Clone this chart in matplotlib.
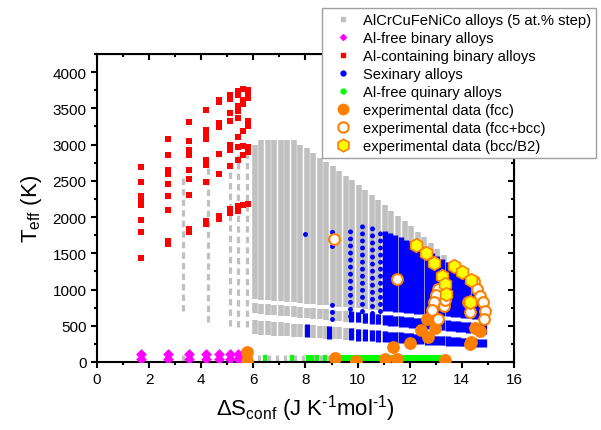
import matplotlib.pyplot as plt
from matplotlib.lines import Line2D
from matplotlib.ticker import MultipleLocator

plt.rcParams["font.family"] = ["Liberation Sans", "DejaVu Sans"]
plt.rcParams["mathtext.fontset"] = "custom"
plt.rcParams["mathtext.rm"] = "Liberation Sans"
plt.rcParams["mathtext.it"] = "Liberation Sans:italic"

GRAY = "#c0c0c0"
ORANGE = "#ff8000"

# AlCrCuFeNiCo alloys, sparse low-entropy columns (dashed strips)
gray_sparse_x = [3.3, 4.26, 5.1, 5.4, 5.76]
gray_sparse_top = [2550, 2730, 2700, 2850, 2900]
gray_sparse_bot = [700, 550, 500, 480, 480]

# AlCrCuFeNiCo alloys, dense columns: upper block, two lower bands, bottom strip
gray_x = [6.05, 6.3, 6.55, 6.8, 7.05, 7.3, 7.55, 7.8, 8.05, 8.3, 8.55, 8.8,
          9.05, 9.3, 9.55, 9.8, 10.05, 10.3, 10.55, 10.8, 11.05, 11.3, 11.55,
          11.8, 12.05, 12.3, 12.55, 12.8, 13.05, 13.3, 13.55, 13.8, 14.05,
          14.3, 14.55]
gray_top = [3000, 3060, 3070, 3070, 3070, 3060, 3060, 3000, 2950, 2880, 2820,
            2760, 2700, 2640, 2570, 2510, 2440, 2370, 2300, 2230, 2160, 2090,
            2010, 1940, 1870, 1800, 1720, 1640, 1560, 1470, 1380, 1280, 1180,
            1060, 900]
gray_lo = [870, 862, 854, 846, 838, 830, 821, 813, 805, 797, 789, 780, 772,
           764, 756, 748, 740, 731, 723, 715, 707, 699, 690, 682, 674, 666,
           658, 649, 641, 633, 625, 617, 609, 600, 592]
gray_b1_hi = [815, 807, 799, 791, 783, 775, 766, 758, 750, 742, 734, 725, 717,
              709, 701, 693, 685, 676, 668, 660, 652, 644, 635, 627, 619, 611,
              603, 594, 586, 578, 570, 562, 554, 545, 537]
gray_b1_lo = [670, 662, 654, 646, 638, 630, 621, 613, 605, 597, 589, 580, 572,
              564, 556, 548, 540, 531, 523, 515, 507, 499, 490, 482, 474, 466,
              458, 449, 441, 433, 425, 417, 409, 400, 392]
gray_b2_hi = [575, 568, 560, 553, 545, 538, 530, 523, 515, 508, 500, 493, 485,
              478, 470, 463, 455, 448, 440, 433, 425, 418, 410, 403, 395, 388,
              380, 373, 365, 358, 350, 343, 335, 328, 320]
gray_b2_lo = [380, 375, 369, 364, 359, 353, 348, 343, 338, 332, 327, 322, 316,
              311, 306, 300, 295, 290, 284, 279, 274, 268, 263, 258, 252, 247,
              242, 236, 231, 226, 220, 215, 210, 204, 200]
gray_floor_x = [3.3, 4.26, 4.7, 5.1, 5.4, 5.9, 6.2, 6.6, 6.9, 7.2, 7.6, 7.9,
                8.3, 8.6, 8.9]

# Sexinary alloys: dense columns
blue_x = [11.05, 11.25, 11.45, 11.65, 11.85, 12.05, 12.25, 12.45, 12.65,
          12.85, 13.05, 13.25, 13.45, 13.65, 13.85, 14.05, 14.25, 14.45,
          14.65, 14.85]
blue_top = [1810, 1780, 1750, 1720, 1690, 1665, 1630, 1590, 1550, 1510, 1465,
            1420, 1380, 1335, 1290, 1250, 1200, 1130, 1030, 880]
blue_lo = [707, 700, 693, 687, 680, 674, 667, 661, 654, 648, 641, 635, 628,
           622, 615, 608, 602, 596, 590, 585]
blue_b1_hi = [652, 645, 638, 632, 625, 619, 612, 606, 599, 593, 586, 580, 573,
              567, 560, 553, 547, 541, 535, 530]
blue_b1_lo = [507, 500, 493, 487, 480, 474, 467, 461, 454, 448, 441, 435, 428,
              422, 415, 408, 402, 396, 390, 385]
blue_b2_hi = [425, 419, 413, 407, 401, 395, 389, 383, 377, 371, 365, 359, 353,
              347, 341, 335, 330, 326, 322, 318]
blue_b2_lo = [274, 270, 265, 261, 257, 253, 249, 245, 241, 237, 233, 229, 225,
              222, 218, 214, 210, 206, 203, 200]

# Sexinary alloys: sparse columns (dotted) and their lower bands
blue_sparse_x = [8.0, 9.0, 9.0, 9.7, 10.15, 10.55, 10.85]
blue_sparse_top = [1810, 1870, 830, 1880, 1900, 1880, 1850]
blue_sparse_bot = [1770, 1600, 600, 640, 700, 680, 700]
blue_band_x = [8.05, 8.9, 9.75, 10.0, 10.3, 10.55, 10.8]
blue_band_b1_hi = [0, 0, 697, 690, 682, 674, 666]
blue_band_b1_lo = [0, 0, 552, 545, 537, 529, 521]
blue_band_b2_hi = [520, 495, 470, 462, 454, 447, 440]
blue_band_b2_lo = [345, 320, 300, 295, 290, 285, 280]

# Al-free quinary alloys
green_x = [6.45, 7.5, 8.1, 8.25, 8.45, 8.75, 9.1, 9.25, 9.4, 9.55, 9.7, 9.85,
           10.0, 10.15, 10.3, 10.45, 10.6, 10.75, 10.9, 11.05, 11.2, 11.35,
           11.5, 11.65, 11.8, 11.95, 12.1, 12.25, 12.4, 12.55, 12.7, 12.85,
           13.0, 13.15]
green_lo = 20
green_hi = 95

# Al-free binary alloys
mag_x = [1.67, 2.71, 3.53, 4.18, 4.68, 5.09, 5.4, 5.6,
         1.67, 2.71, 3.53, 4.18, 4.68, 5.09, 5.4, 5.6]
mag_t = [110, 110, 110, 110, 110, 110, 110, 110,
         35, 35, 35, 35, 35, 35, 35, 35]

# Al-containing binary alloys
red_cols = {
    1.67: [2690, 2490, 2290, 2230, 2160, 1960, 1800, 1440],
    2.71: [3080, 2850, 2650, 2600, 2455, 2295, 2100, 1670, 1630],
    3.53: [3310, 3050, 2930, 2860, 2650, 2520, 2310, 1830, 1800],
    4.18: [3480, 3200, 3130, 3075, 2790, 2720, 2480, 1950, 1900],
    4.68: [3620, 3590, 3300, 3240, 2870, 2590, 2020, 1970],
    5.09: [3690, 3630, 3440, 3330, 3000, 2925, 2710, 2110, 2050],
    5.4: [3740, 3680, 3530, 3470, 3360, 3110, 2970, 2790, 2150, 2090],
    5.6: [3770, 3620, 3560, 3190, 2985, 2860, 2170],
    5.78: [3760, 3700, 3640, 3330, 3260, 2960, 2900, 2180],
}

# experimental data
fcc_x = [5.74, 5.74, 9.13, 9.94, 11.05, 11.5, 13.35, 11.36, 12.0, 12.45,
         12.7, 12.67, 12.97, 14.5, 14.7, 14.35, 14.3]
fcc_t = [140, 20, 50, 20, 40, 40, 30, 205, 262, 440, 340, 590, 465, 470, 430,
         280, 250]
mix_x = [9.1, 11.5, 13.1, 13.0, 12.95, 12.85, 13.1, 13.3, 13.35, 14.3, 14.45,
         14.6, 14.7, 14.8, 14.9, 14.85, 14.25]
mix_t = [1700, 1140, 1010, 920, 830, 720, 590, 770, 860, 685, 1120, 1010, 915,
         825, 710, 600, 830]
bcc_x = [12.24, 12.63, 12.95, 13.7, 13.99, 14.34, 13.24, 13.35, 13.39, 14.3]
bcc_t = [1620, 1500, 1365, 1325, 1240, 1136, 1185, 1070, 940, 830]

fig = plt.figure(figsize=(6.01, 4.31), dpi=100)
ax = fig.add_axes([0.1614, 0.1578, 0.6938, 0.7146])

# gray cloud
ax.vlines(gray_sparse_x, gray_sparse_bot, gray_sparse_top, color=GRAY,
          lw=2.3, linestyles=(0, (2.0, 1.3)), zorder=1)
ax.vlines(gray_x, gray_lo, gray_top, color=GRAY, lw=4.0, zorder=1)
ax.vlines(gray_x, gray_b1_lo, gray_b1_hi, color=GRAY, lw=4.0, zorder=1)
ax.vlines(gray_x, gray_b2_lo, gray_b2_hi, color=GRAY, lw=4.0, zorder=1)
ax.vlines(gray_floor_x, 0, 90, color=GRAY, lw=2.3, zorder=1)

# green quinary
ax.vlines(green_x, green_lo, green_hi, color="#00ff00", lw=3.0, zorder=2)

# blue sexinary
ax.vlines(blue_x, blue_lo, blue_top, color="#0000ff", lw=3.8, zorder=3)
ax.vlines(blue_x, blue_b1_lo, blue_b1_hi, color="#0000ff", lw=3.8, zorder=3)
ax.vlines(blue_x, blue_b2_lo, blue_b2_hi, color="#0000ff", lw=3.8, zorder=3)
ax.vlines(blue_sparse_x, blue_sparse_bot, blue_sparse_top, color="#0000ff",
          lw=3.6, linestyles=(0, (0.01, 1.4)), capstyle="round", zorder=3)
ax.vlines(blue_band_x, blue_band_b1_lo, blue_band_b1_hi, color="#0000ff",
          lw=3.6, zorder=3)
ax.vlines(blue_band_x, blue_band_b2_lo, blue_band_b2_hi, color="#0000ff",
          lw=3.6, zorder=3)

# binaries
for xr, temps in red_cols.items():
    ax.scatter([xr] * len(temps), temps, s=16, marker="s", color="#ff0000",
               linewidths=0, zorder=4)
ax.scatter(mag_x, mag_t, s=30, marker="D", color="#ff00ff", linewidths=0,
           zorder=4)

# experiments
ax.scatter(fcc_x, fcc_t, s=85, marker="o", color=ORANGE, linewidths=0,
           zorder=6)
ax.scatter(mix_x, mix_t, s=60, marker="o", facecolor="white",
           edgecolor=ORANGE, linewidths=1.5, zorder=7)
ax.scatter(bcc_x, bcc_t, s=95, marker="h", facecolor="#ffff00",
           edgecolor=ORANGE, linewidths=1.2, zorder=8)

ax.set_xlim(0, 16)
ax.set_ylim(0, 4250)
ax.xaxis.set_major_locator(MultipleLocator(2))
ax.xaxis.set_minor_locator(MultipleLocator(1))
ax.yaxis.set_minor_locator(MultipleLocator(250))
ax.set_yticks(range(0, 4001, 500))
for sp in ax.spines.values():
    sp.set_linewidth(1.5)
ax.tick_params(which="major", direction="out", length=4, width=1.5,
               labelsize=11)
ax.tick_params(which="minor", direction="out", length=2.5, width=1.5)

# mirrored ticks pointing inward
top = ax.secondary_xaxis("top")
top.xaxis.set_major_locator(MultipleLocator(2))
top.xaxis.set_minor_locator(MultipleLocator(1))
top.tick_params(which="major", direction="in", length=4, width=1.5,
                labeltop=False)
top.tick_params(which="minor", direction="in", length=2.5, width=1.5)
right = ax.secondary_yaxis("right")
right.yaxis.set_major_locator(MultipleLocator(500))
right.yaxis.set_minor_locator(MultipleLocator(250))
right.tick_params(which="major", direction="in", length=4, width=1.5,
                  labelright=False)
right.tick_params(which="minor", direction="in", length=2.5, width=1.5)

ax.set_xlabel("\u0394S$_\\mathrm{conf}$ (J K$^\\mathrm{\u2010 1}$mol$^\\mathrm{\u2010 1}$)",
              fontsize=16, labelpad=4)
ax.set_ylabel("T$_\\mathrm{eff}$ (K)", fontsize=16, labelpad=6)

handles = [
    Line2D([], [], ls="none", marker="s", ms=3, color=GRAY),
    Line2D([], [], ls="none", marker="D", ms=3, color="#ff00ff"),
    Line2D([], [], ls="none", marker="s", ms=3.5, color="#ff0000"),
    Line2D([], [], ls="none", marker="o", ms=3.5, color="#0000ff"),
    Line2D([], [], ls="none", marker="o", ms=3.5, color="#00ff00"),
    Line2D([], [], ls="none", marker="o", ms=8.5, color=ORANGE, mew=0),
    Line2D([], [], ls="none", marker="o", ms=7.5, mfc="white", mec=ORANGE,
           mew=1.5),
    Line2D([], [], ls="none", marker="h", ms=9, mfc="#ffff00", mec=ORANGE,
           mew=1.2),
]
labels = [
    "AlCrCuFeNiCo alloys (5 at.% step)",
    "Al-free binary alloys",
    "Al-containing binary alloys",
    "Sexinary alloys",
    "Al-free quinary alloys",
    "experimental data (fcc)",
    "experimental data (fcc+bcc)",
    "experimental data (bcc/B2)",
]
leg = fig.legend(handles, labels, loc="upper left",
                 bbox_to_anchor=(0.536, 0.979), fontsize=10.6, frameon=True,
                 fancybox=False, edgecolor="#a0a0a0", framealpha=1,
                 borderpad=0.35, labelspacing=0.27, handlelength=2.2,
                 handletextpad=0.2, borderaxespad=0)
leg.get_frame().set_linewidth(1.0)
leg.set_zorder(20)

fig.savefig("out.png", dpi=100)
